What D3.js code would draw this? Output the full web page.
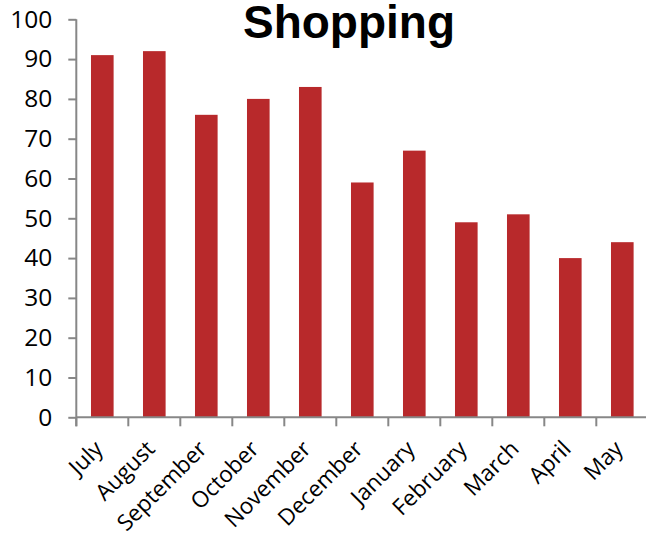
<!DOCTYPE html>
<html><head><meta charset="utf-8">
<script src="https://cdn.jsdelivr.net/npm/d3@7"></script>
<style>body{margin:0;background:#fff}svg{display:block}</style>
</head><body>
<svg id="c" width="646" height="538"></svg>
<script>
const months = ["July","August","September","October","November","December","January","February","March","April","May"];
const values = [91,92,76,80,83,59,67,49,51,40,44];
const yTicks = [0,10,20,30,40,50,60,70,80,90,100];
const title = "Shopping";

const svg = d3.select("#c");
const axisColor = "#878787";
const x = d3.scaleBand().domain(months).range([76.3, 648.3]).paddingInner(0.565).paddingOuter(0.2825);
const y = d3.scaleLinear().domain([0,100]).range([417.3, 19.3]);

// bars
svg.append("g").selectAll("rect").data(values).join("rect")
  .attr("x",(d,i)=>x(months[i]))
  .attr("y",d=>y(d))
  .attr("width",x.bandwidth())
  .attr("height",d=>y(0)-y(d))
  .attr("fill","#B8292B");

// y axis
const ya = svg.append("g").attr("transform","translate(76.3,0)")
  .call(d3.axisLeft(y).tickValues(yTicks).tickSize(8).tickPadding(16));
ya.select(".domain").attr("stroke",axisColor).attr("stroke-width",2).attr("d",`M0,${y(100)}V${y(0)+9}`);
ya.selectAll(".tick line").attr("stroke",axisColor).attr("stroke-width",2);
ya.selectAll(".tick text").attr("font-family","'Open Sans', sans-serif").attr("font-size",24.5).attr("fill","#000");

// x axis
const step = x.step();
const xa = svg.append("g");
xa.append("line").attr("x1",76.3).attr("x2",648).attr("y1",y(0)).attr("y2",y(0))
  .attr("stroke",axisColor).attr("stroke-width",2);
const bounds = months.map(m => x(m) - x.paddingInner()*step/2);
xa.selectAll("line.t").data(bounds).join("line").attr("class","t")
  .attr("x1",d=>d).attr("x2",d=>d).attr("y1",y(0)).attr("y2",y(0)+9)
  .attr("stroke",axisColor).attr("stroke-width",2);
xa.selectAll("text").data(months).join("text")
  .attr("transform",d=>`translate(${x(d)+x.bandwidth()/2+2},${y(0)+33}) rotate(-45)`)
  .attr("text-anchor","end")
  .attr("font-family","'Open Sans', sans-serif").attr("font-size",22.5).attr("fill","#000")
  .text(d=>d);

// title
svg.append("text").attr("x",349).attr("y",38).attr("text-anchor","middle")
  .attr("font-family","'Liberation Sans', Arial, sans-serif").attr("font-weight","bold")
  .attr("font-size",46).attr("fill","#000").text(title);
</script>
</body></html>
